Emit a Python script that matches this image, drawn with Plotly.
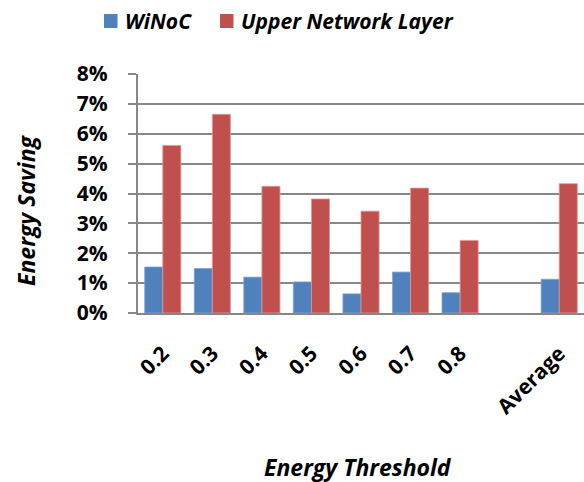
import plotly.graph_objects as go

categories = ["0.2", "0.3", "0.4", "0.5", "0.6", "0.7", "0.8", " ", "Average"]
winoc = [1.54, 1.49, 1.20, 1.04, 0.64, 1.37, 0.68, None, 1.13]
upper = [5.61, 6.65, 4.24, 3.82, 3.41, 4.18, 2.43, None, 4.33]
series_names = ["WiNoC", "Upper Network Layer"]
series_colors = ["#4F81BD", "#C0504D"]
edge_colors = ["#7FA3D0", "#DE9A98"]

font_family = "'Open Sans', sans-serif"
grid_col = "#878787"

W, H = 584, 482
L, R, T, B = 138, 0, 74, 169
pw, ph = W - L - R, H - T - B


def px_to_paper(x, y):
    return (x - L) / pw, (H - B - y) / ph


fig = go.Figure()
for name, vals, col, edge in zip(series_names, [winoc, upper], series_colors, edge_colors):
    fig.add_trace(go.Bar(name=name, x=categories, y=vals, showlegend=False,
                         marker=dict(color=col, line=dict(color=edge, width=0.8))))

# legend row drawn across the top: colour swatch + label per series
shapes, annotations = [], []
legend_slots = [(104, 124), (220, 240)]  # swatch left edge, label left edge (px)
for (sx, tx), name, col in zip(legend_slots, series_names, series_colors):
    x0, y0 = px_to_paper(sx, 28)
    x1, y1 = px_to_paper(sx + 13.5, 14)
    shapes.append(dict(type="rect", xref="paper", yref="paper",
                       x0=x0, x1=x1, y0=y0, y1=y1,
                       fillcolor=col, line=dict(width=0)))
    ax, ay = px_to_paper(tx, 21)
    annotations.append(dict(text=f"<b><i>{name}</i></b>", xref="paper", yref="paper",
                            x=ax, y=ay, xanchor="left", yanchor="middle",
                            showarrow=False, borderpad=0,
                            font=dict(size=21, family=font_family)))

yt_x, yt_y = px_to_paper(26, 210)
xt_x, xt_y = px_to_paper(358, 467)
annotations += [
    dict(text="<b><i>Energy Saving</i></b>", xref="paper", yref="paper",
         x=yt_x, y=yt_y, xanchor="center", yanchor="middle",
         textangle=-90, showarrow=False,
         font=dict(size=23, family=font_family)),
    dict(text="<b><i>Energy Threshold</i></b>", xref="paper", yref="paper",
         x=xt_x, y=xt_y, xanchor="center", yanchor="middle", showarrow=False,
         font=dict(size=23, family=font_family)),
]

fig.update_layout(
    width=W, height=H,
    margin=dict(l=L, r=R, t=T, b=B),
    paper_bgcolor="white", plot_bgcolor="white",
    barmode="group", bargap=0.27, bargroupgap=0.0,
    font=dict(family=font_family, color="black"),
    xaxis=dict(type="category", categoryarray=categories, tickangle=-45,
               tickfont=dict(size=21, family=font_family, weight="bold"),
               showline=True, linecolor=grid_col, linewidth=2,
               showgrid=False, ticks="", ticklabelstandoff=18, fixedrange=True),
    yaxis=dict(range=[0, 8], dtick=1, ticksuffix="%",
               tickfont=dict(size=21, family=font_family, weight="bold"),
               showgrid=True, gridcolor=grid_col, gridwidth=2,
               showline=True, linecolor=grid_col, linewidth=2,
               ticks="outside", ticklen=8, tickcolor=grid_col, tickwidth=2,
               ticklabelstandoff=16, zeroline=False),
    shapes=shapes,
    annotations=annotations,
)

fig.write_html("out.html")
